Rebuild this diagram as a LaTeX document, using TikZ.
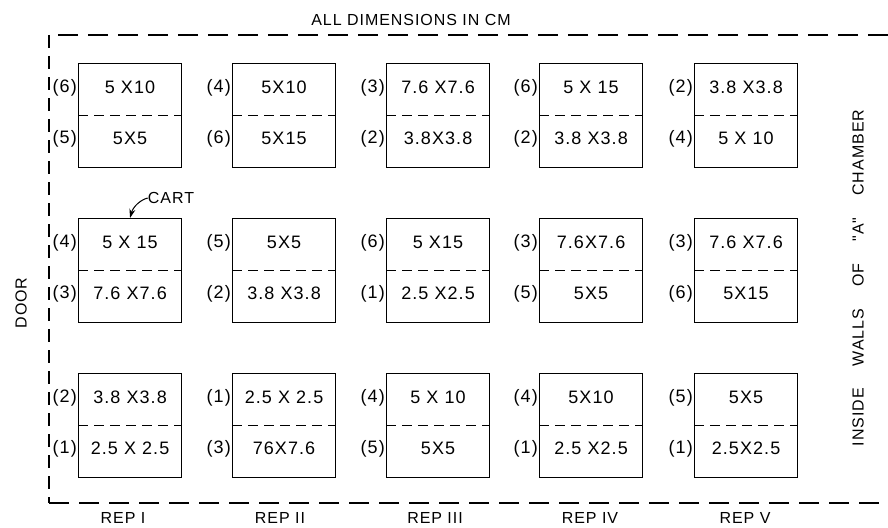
\documentclass[tikz,border=0pt]{standalone}
\usepackage{fontspec}
\setmainfont{Liberation Sans}
\newfontfamily\lettering[LetterSpace=6]{Liberation Sans}
\usetikzlibrary{arrows.meta}
\begin{document}
\begin{tikzpicture}[x=1pt,y=-1pt,
  cart/.style={draw,line width=1.1pt,minimum width=103pt,minimum height=104pt,anchor=north west,inner sep=0pt},
  divide/.style={line width=1pt,dash pattern=on 10pt off 6pt},
  wall/.style={line width=1.2pt,dash pattern=on 20pt off 10pt},
  sidewall/.style={line width=1.2pt,dash pattern=on 13pt off 8pt},
  size/.style={font=\lettering\fontsize{18}{18}\selectfont,inner sep=0pt},
  num/.style={font=\lettering\fontsize{18}{18}\selectfont,inner sep=0pt,anchor=east},
  caption/.style={font=\lettering\fontsize{16}{16}\selectfont,inner sep=0pt}]
\useasboundingbox (0,0) rectangle (888,527);

% chamber walls, open on the right
\coordinate (wtr) at (888,35);
\coordinate (wtl) at (49,35);
\coordinate (wbl) at (49,503);
\coordinate (wbr) at (888,503);
\draw[wall] (wtr) -- (wtl);
\draw[sidewall] (wtl) -- (wbl);
\draw[wall] (wbl) -- (wbr);

\node[caption] (title) at (411,20) {ALL DIMENSIONS IN CM};
\node[caption,rotate=90] (door) at (21,303) {DOOR};
\node[caption,rotate=90] (walls) at (858,278) {INSIDE\hspace{22pt}WALLS\hspace{22pt}OF\hspace{22pt}"A"\hspace{22pt}CHAMBER};

% carts: one box per cart, dashed line between its two shelves
\foreach \c/\x in {1/78,2/232,3/386,4/539,5/694}{
  \foreach \r/\y in {1/63,2/218,3/373}{
    \node[cart] (c\c\r) at (\x,\y) {};
    \draw[divide] (c\c\r.west) -- (c\c\r.east);
  }
}

% cart, upper size, upper number, lower size, lower number
\foreach \n/\ta/\na/\tb/\nb in {
  11/5 X10/6/5X5/5,
  21/5X10/4/5X15/6,
  31/7.6 X7.6/3/3.8X3.8/2,
  41/5 X 15/6/3.8 X3.8/2,
  51/3.8 X3.8/2/5 X 10/4,
  12/5 X 15/4/7.6 X7.6/3,
  22/5X5/5/3.8 X3.8/2,
  32/5 X15/6/2.5 X2.5/1,
  42/7.6X7.6/3/5X5/5,
  52/7.6 X7.6/3/5X15/6,
  13/3.8 X3.8/2/2.5 X 2.5/1,
  23/2.5 X 2.5/1/76X7.6/3,
  33/5 X 10/4/5X5/5,
  43/5X10/4/2.5 X2.5/1,
  53/5X5/5/2.5X2.5/1}{
  \node[size] (u\n) at ([yshift=28pt]c\n.center) {\ta};
  \node[size] (l\n) at ([yshift=-23pt]c\n.center) {\tb};
  \node[num] (nu\n) at ([xshift=-1pt,yshift=28pt]c\n.west) {(\na)};
  \node[num] (nl\n) at ([xshift=-1pt,yshift=-23pt]c\n.west) {(\nb)};
}

% cart pointer
\node[caption] (cartlbl) at (171,198) {CART};
\draw[line width=1pt,-{Stealth[length=9pt,width=6pt]}] (cartlbl.west) .. controls (140,200) and (133,207) .. (c12.north);

% replicates
\node[caption] (rep1) at (123,518) {REP I};
\node[caption] (rep2) at (280,518) {REP II};
\node[caption] (rep3) at (435,518) {REP III};
\node[caption] (rep4) at (590,518) {REP IV};
\node[caption] (rep5) at (745,518) {REP V};
\end{tikzpicture}
\end{document}
